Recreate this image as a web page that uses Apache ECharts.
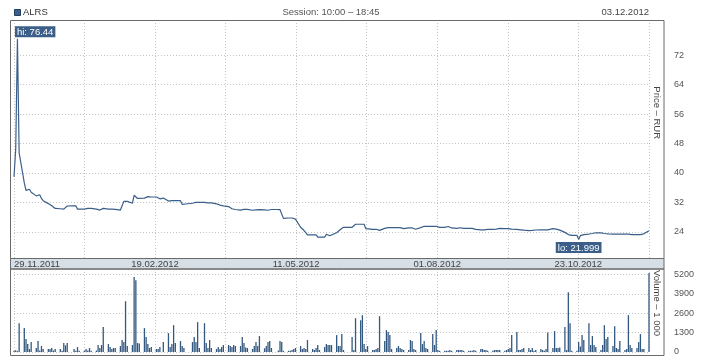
<!DOCTYPE html>
<html><head><meta charset="utf-8">
<script src="https://cdn.jsdelivr.net/npm/echarts@6/dist/echarts.min.js"></script>
<style>html,body{margin:0;padding:0;background:#fff}#c{width:718px;height:360px}</style>
</head><body><div id="c"></div>
<script>
// ---------- data ----------
const ticker = 'ALRS';
const sessionText = 'Session: 10:00 \u2013 18:45';
const lastDate = '03.12.2012';
const startDate = [2011, 10, 29];   // 29.11.2011 (JS month index)
const endDay = 370;                 // 03.12.2012 = day 370
const xTickLabels = ['29.11.2011', '19.02.2012', '11.05.2012', '01.08.2012', '23.10.2012'];
const priceTicks = [24, 32, 40, 48, 56, 64, 72];
const volumeTicks = [0, 1300, 2600, 3900, 5200];
const priceAxisName = 'Price \u2013 RUR';
const volumeAxisName = 'Volume \u2013 1 000';

// close price, one value per weekday (weeks of Mon..Fri)
const price = [
  39.0, 46.5, 76.44, 45.5,
  37.3, 35.3, 35.4, 35.6, 34.8,
  33.8, 34.2, 34.1, 33.1, 32.5,
  31.7, 31.5, 31.1, 30.7, 30.4,
  30.3, 30.2, 30.2, 30.2, 31.05,
  31.1, 31.1, 31.1, 30.2, 30.2,
  30.2, 30.7, 30.4, 30.7, 30.4,
  30.2, 30.1, 29.95, 30.2, 30.4,
  30.2, 30.2, 30.2, 30.2, 30.15,
  29.95, 29.95, 32.3, 32.4, 32.3,
  31.8, 33.95, 33.6, 33.1, 32.6,
  33.2, 33.6, 33.6, 33.6, 33.5,
  33.5, 33.2, 33.0, 33.0, 33.2,
  32.4, 32.05, 32.5, 32.6, 32.55,
  32.5, 31.5, 31.6, 31.6, 31.6,
  31.8, 32.05, 32.05, 32.05, 32.05,
  32.05, 32.05, 31.9, 31.9, 31.9,
  31.65, 31.5, 31.3, 31.2, 31.1,
  30.9, 30.9, 30.3, 30.15, 30.1,
  29.95, 30.1, 30.15, 30.15, 30.15,
  29.9, 30.0, 30.0, 30.0, 30.05,
  30.0, 29.9, 29.9, 30.0, 30.1,
  30.1, 30.1, 30.05, 29.8, 27.7,
  27.8, 28.25, 27.8, 27.7, 27.5,
  25.3, 25.0, 24.4, 23.8, 23.2,
  23.2, 23.2, 23.2, 22.6, 22.6,
  22.6, 23.4, 23.1, 23.0, 23.3,
  23.8, 24.0, 24.6, 25.0, 25.27,
  25.27, 25.27, 25.27, 25.3, 26.1,
  26.1, 26.1, 26.1, 24.9, 24.7,
  24.7, 24.7, 24.75, 24.5, 24.45,
  25.0, 25.2, 25.2, 25.2, 25.2,
  25.2, 25.2, 25.2, 24.7, 24.9,
  25.1, 25.2, 25.1, 24.9, 24.75,
  25.2, 25.0, 25.55, 25.55, 25.55,
  25.55, 25.55, 25.55, 25.3, 25.27,
  25.27, 25.5, 25.5, 25.2, 25.1,
  25.0, 25.2, 25.15, 25.0, 25.0,
  25.0, 25.0, 25.0, 25.0, 24.7,
  24.6, 24.6, 24.6, 24.7, 24.7,
  24.7, 24.7, 24.8, 24.9, 25.0,
  24.9, 24.9, 24.9, 24.85, 24.8,
  24.7, 24.65, 24.6, 24.55, 24.5,
  24.4, 24.35, 24.45, 24.5, 24.55,
  24.6, 24.6, 24.6, 24.55, 24.6,
  24.9, 25.0, 24.8, 24.6, 24.5,
  23.9, 23.4, 23.3, 23.2, 23.1,
  23.1, 21.999, 23.0, 23.2, 23.3,
  23.45, 23.5, 23.6, 23.7, 23.8,
  23.75, 23.65, 23.6, 23.5, 23.5,
  23.45, 23.4, 23.4, 23.4, 23.4,
  23.4, 23.4, 23.4, 23.35, 23.3,
  23.3, 23.3, 23.3, 23.35, 23.5,
  24.35
];

// volume, thousands, one value per weekday
const volume = [
  90, 110, 60, 1933,
  1600, 867, 533, 200, 667,
  267, 733, 100, 400, 200,
  200, 200, 267, 100, 200,
  200, 80, 600, 444, 600,
  0, 200, 80, 333, 80,
  80, 200, 100, 267, 80,
  100, 467, 267, 467, 1667,
  533, 333, 200, 267, 267,
  400, 800, 667, 3400, 400,
  467, 5022, 4800, 600, 570,
  1600, 1000, 533, 267, 333,
  200, 200, 333, 0, 667,
  1267, 333, 533, 1800, 600,
  733, 400, 267, 0, 0,
  667, 1000, 667, 2000, 267,
  1933, 600, 267, 800, 267,
  200, 333, 200, 333, 467,
  467, 400, 333, 467, 400,
  400, 1000, 600, 300, 267,
  200, 400, 667, 400, 1067,
  250, 400, 667, 733, 267,
  0, 100, 733, 667, 80,
  80, 80, 133, 200, 267,
  400, 200, 267, 200, 800,
  200, 133, 267, 467, 133,
  333, 533, 467, 467, 467,
  1133, 400, 400, 1200, 133,
  0, 0, 1000, 133, 2267,
  2133, 2467, 533, 200, 400,
  133, 133, 200, 267, 2400,
  733, 1467, 1333, 1133, 200,
  267, 400, 267, 200, 133,
  133, 800, 733, 200, 133,
  1267, 533, 733, 267, 200,
  1200, 467, 1467, 133, 80,
  80, 80, 80, 133, 80,
  133, 133, 133, 133, 80,
  80, 80, 80, 133, 80,
  200, 200, 133, 133, 80,
  80, 133, 133, 133, 133,
  80, 133, 200, 267, 1133,
  1333, 133, 133, 200, 267,
  267, 133, 267, 80, 133,
  200, 133, 80, 200, 1300,
  267, 1400, 267, 267, 300,
  1667, 133, 4000, 1933, 80,
  80, 667, 367, 1133, 800,
  1933, 467, 1067, 467, 333,
  133, 467, 1800, 867, 1000,
  400, 1733, 267, 200, 733,
  133, 200, 2467, 467, 267,
  267, 667, 1200, 200, 200,
  5290
];

// ---------- calendar: weekday offsets from start ----------
const days = [];
for (let d = 0; d <= endDay; d++) {
  const wd = new Date(Date.UTC(startDate[0], startDate[1], startDate[2] + d)).getUTCDay();
  if (wd !== 0 && wd !== 6) days.push(d);
}

const FONT = '"Liberation Sans", Arial, sans-serif';
const BLUE = '#3a5f8a';
const GRIDC = '#c4c4c4';
const FRAME = '#6a6a6a';
const TICK = 41.1;

const priceData = days.map((d, i) => [d, price[i]]);
const volData = days.map((d, i) => [d, volume[i]]);

const xBase = {
  type: 'value', min: 0, max: endDay, interval: TICK,
  axisLine: {show: false}, axisTick: {show: false},
  axisLabel: {show: false},
  splitLine: {show: true, lineStyle: {color: GRIDC, type: [1, 2], width: 1}}
};

const chart = echarts.init(document.getElementById('c'), null, {renderer: 'canvas'});
chart.setOption({
  animation: false,
  grid: [
    {left: 14, right: 69, top: 20, height: 241.5},
    {left: 14, right: 69, top: 269, height: 83}
  ],
  xAxis: [
    Object.assign({}, xBase, {gridIndex: 0}),
    Object.assign({}, xBase, {gridIndex: 1}),
    {
      type: 'value', gridIndex: 1, position: 'top', min: 0, max: endDay, interval: TICK, z: 100,
      axisLine: {show: false}, axisTick: {show: false}, splitLine: {show: false},
      axisLabel: {
        show: true, margin: 0, color: '#444', fontSize: 9.5, fontFamily: FONT,
        alignMinLabel: 'left', showMaxLabel: false,
        formatter: function (v) {
          const k = Math.round(v / TICK);
          if (k % 2 !== 0) return '';
          return xTickLabels[k / 2] || '';
        }
      }
    }
  ],
  yAxis: [
    {
      type: 'value', gridIndex: 0, position: 'right', min: 16, max: 81.5, interval: 8,
      axisLine: {show: false}, axisTick: {show: false},
      axisLabel: {margin: 25, color: '#555', fontSize: 9, fontFamily: FONT,
                  formatter: v => priceTicks.indexOf(v) >= 0 ? String(v) : ''},
      splitLine: {show: false}
    },
    {
      type: 'value', gridIndex: 1, position: 'right', min: 0, max: 5560, interval: 1300,
      axisLine: {show: false}, axisTick: {show: false},
      axisLabel: {margin: 25, color: '#555', fontSize: 9, fontFamily: FONT,
                  formatter: v => volumeTicks.indexOf(v) >= 0 ? String(v) : ''},
      splitLine: {show: true, lineStyle: {color: GRIDC, type: [1, 2], width: 1}}
    }
  ],
  series: [
    {
      name: ticker, type: 'line', xAxisIndex: 0, yAxisIndex: 0, data: priceData,
      showSymbol: false, symbol: 'none', lineStyle: {color: BLUE, width: 1.2}, z: 5,
      markLine: {
        silent: true, symbol: ['none', 'none'], z: 1, label: {show: false},
        lineStyle: {color: GRIDC, type: [1, 2], width: 1},
        data: priceTicks.map(v => ({yAxis: v}))
      },
      markPoint: {
        symbol: 'circle', symbolSize: 1, itemStyle: {color: 'rgba(0,0,0,0)'}, z: 120,
        label: {show: true, color: '#fff', backgroundColor: '#3b5f88', padding: [1, 2, 0, 2],
                fontSize: 9.5, fontFamily: FONT},
        data: [
          {type: 'max', valueDim: 'y', label: {position: [-2, -12], formatter: p => 'hi: ' + p.value}},
          {type: 'min', valueDim: 'y', label: {position: 'bottom', distance: 2, formatter: p => 'lo: ' + p.value}}
        ]
      }
    },
    {
      name: 'Volume', type: 'bar', xAxisIndex: 1, yAxisIndex: 1, data: volData,
      barWidth: 1.3, itemStyle: {color: '#33587f'}, z: 5
    }
  ],
  graphic: [
    {type: 'rect', z: 50, shape: {x: 10.5, y: 258.5, width: 653.5, height: 10.5},
     style: {fill: '#d6dee6', stroke: FRAME, lineWidth: 1}},
    {type: 'rect', z: 60, shape: {x: 10.5, y: 20.5, width: 653.5, height: 238},
     style: {fill: 'none', stroke: FRAME, lineWidth: 1}},
    {type: 'rect', z: 60, shape: {x: 10.5, y: 269, width: 653.5, height: 86.5},
     style: {fill: 'none', stroke: FRAME, lineWidth: 1}},
    {type: 'rect', z: 60, shape: {x: 14.5, y: 9.5, width: 6, height: 6},
     style: {fill: BLUE, stroke: '#24405f', lineWidth: 1}},
    {type: 'text', z: 60, x: 23, y: 12.5,
     style: {text: ticker, fill: '#333', font: '9.5px ' + FONT, verticalAlign: 'middle'}},
    {type: 'text', z: 60, x: 331, y: 12.5,
     style: {text: sessionText, fill: '#555', font: '9.5px ' + FONT, align: 'center', verticalAlign: 'middle'}},
    {type: 'text', z: 60, x: 649, y: 12.5,
     style: {text: lastDate, fill: '#444', font: '9.5px ' + FONT, align: 'right', verticalAlign: 'middle'}},
    {type: 'text', z: 60, x: 656.5, y: 112.7, rotation: -Math.PI / 2,
     style: {text: priceAxisName, fill: '#444', font: '9.5px ' + FONT, align: 'center', verticalAlign: 'middle'}},
    {type: 'text', z: 60, x: 656.5, y: 303, rotation: -Math.PI / 2,
     style: {text: volumeAxisName, fill: '#444', font: '9.5px ' + FONT, align: 'center', verticalAlign: 'middle'}}
  ]
});
</script>
</body></html>
